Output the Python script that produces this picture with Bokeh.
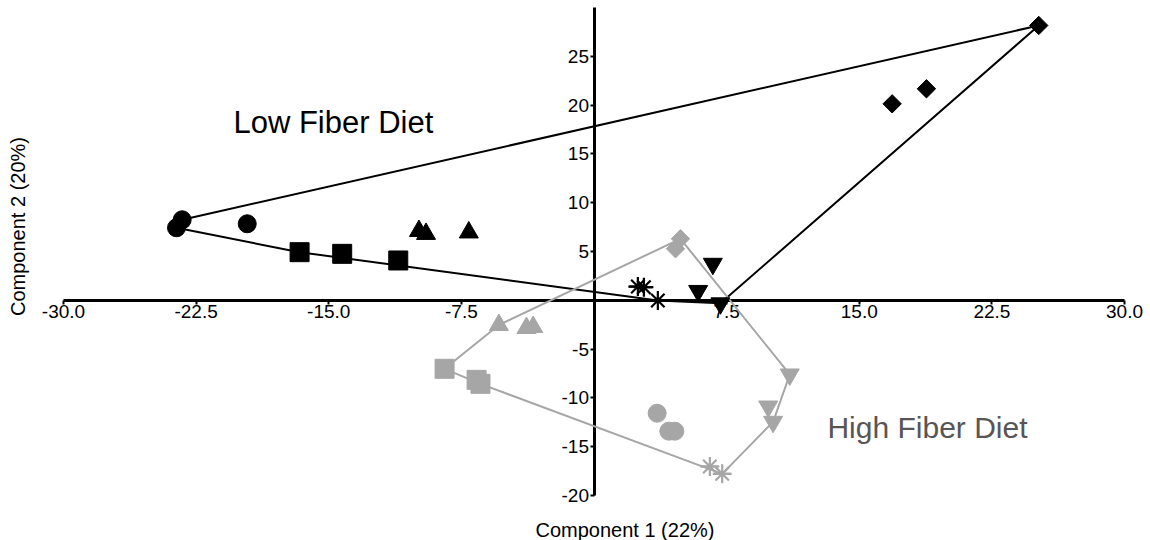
import numpy as np
from bokeh.plotting import figure
from bokeh.models import FixedTicker, Label, Range1d
from bokeh.embed import file_html
from bokeh.resources import INLINE

# ---------------- data (Component 1, Component 2) ----------------
# Low fiber diet (black)
low_circle_x = [-23.29, -23.61, -19.61]
low_circle_y = [8.25, 7.43, 7.84]
low_square_x = [-16.65, -14.24, -11.07]
low_square_y = [4.93, 4.76, 4.08]
low_triangle_x = [-9.90, -9.50, -7.08]
low_triangle_y = [7.10, 6.80, 6.95]
low_asterisk_x = [2.48, 2.82, 3.61]
low_asterisk_y = [1.41, 1.34, -0.02]
low_invtri_x = [6.72, 5.89, 7.15]
low_invtri_y = [3.74, 0.96, -0.31]
low_diamond_x = [25.15, 18.80, 16.86]
low_diamond_y = [28.16, 21.67, 20.13]

# High fiber diet (gray)
high_circle_x = [3.57, 4.23, 4.57]
high_circle_y = [-11.57, -13.41, -13.41]
high_square_x = [-8.45, -6.64, -6.42]
high_square_y = [-7.02, -8.15, -8.56]
high_triangle_x = [-5.38, -3.82, -3.44]
high_triangle_y = [-2.53, -2.84, -2.74]
high_asterisk_x = [6.55, 7.25]
high_asterisk_y = [-17.03, -17.78]
high_invtri_x = [11.07, 9.85, 10.13]
high_invtri_y = [-7.60, -10.88, -12.45]
high_diamond_x = [4.89, 4.61]
high_diamond_y = [6.30, 5.28]

x_ticks = [-30, -22.5, -15, -7.5, 7.5, 15, 22.5, 30]
x_tick_labels = ["-30.0", "-22.5", "-15.0", "-7.5", "7.5", "15.0", "22.5", "30.0"]
y_ticks = [-20, -15, -10, -5, 5, 10, 15, 20, 25]
y_tick_labels = ["-20", "-15", "-10", "-5", "5", "10", "15", "20", "25"]
x_axis_bounds = (-30, 30)
y_axis_bounds = (-20, 30)

x_title = "Component 1 (22%)"
y_title = "Component 2 (20%)"
low_title = "Low Fiber Diet"
high_title = "High Fiber Diet"

BLACK = "#000000"
GRAY = "#a6a6a6"
TEXT_GRAY = "#595555"
FONT = "Liberation Sans"


def convex_hull(xs, ys):
    pts = sorted(set(zip(xs, ys)))
    if len(pts) <= 2:
        return pts

    def cross(o, a, b):
        return (a[0] - o[0]) * (b[1] - o[1]) - (a[1] - o[1]) * (b[0] - o[0])

    lower = []
    for pt in pts:
        while len(lower) >= 2 and cross(lower[-2], lower[-1], pt) <= 0:
            lower.pop()
        lower.append(pt)
    upper = []
    for pt in reversed(pts):
        while len(upper) >= 2 and cross(upper[-2], upper[-1], pt) <= 0:
            upper.pop()
        upper.append(pt)
    return lower[:-1] + upper[:-1]


# frame covers the whole canvas; the axes are drawn through the origin
p = figure(width=1150, height=540, output_backend="svg", toolbar_location=None,
           x_range=Range1d(-33.563, 31.470), y_range=Range1d(-24.611, 30.717),
           min_border_left=0, min_border_right=0, min_border_top=0, min_border_bottom=0)
p.outline_line_color = None
p.xgrid.visible = False
p.ygrid.visible = False
p.background_fill_color = "white"
p.border_fill_color = "white"

for ax in (p.xaxis[0], p.yaxis[0]):
    ax.fixed_location = 0
    ax.axis_line_width = 3
    ax.axis_line_color = "black"
    ax.major_tick_line_width = 2
    ax.major_tick_in = 0
    ax.major_tick_out = 4
    ax.minor_tick_out = 0
    ax.minor_tick_in = 0
    ax.major_label_text_font = FONT
    ax.major_label_text_font_size = "19px"
    ax.major_label_text_color = "black"
    ax.major_label_standoff = 1
    ax.level = "underlay"

p.xaxis[0].bounds = x_axis_bounds
p.yaxis[0].bounds = y_axis_bounds
p.xaxis[0].ticker = FixedTicker(ticks=x_ticks)
p.xaxis[0].major_label_overrides = {t: l for t, l in zip(x_ticks, x_tick_labels)}
p.yaxis[0].ticker = FixedTicker(ticks=y_ticks)
p.yaxis[0].major_label_overrides = {t: l for t, l in zip(y_ticks, y_tick_labels)}

groups = {
    BLACK: [
        ("circle", low_circle_x, low_circle_y),
        ("square", low_square_x, low_square_y),
        ("triangle", low_triangle_x, low_triangle_y),
        ("asterisk", low_asterisk_x, low_asterisk_y),
        ("inverted_triangle", low_invtri_x, low_invtri_y),
        ("diamond", low_diamond_x, low_diamond_y),
    ],
    GRAY: [
        ("circle", high_circle_x, high_circle_y),
        ("square", high_square_x, high_square_y),
        ("triangle", high_triangle_x, high_triangle_y),
        ("asterisk", high_asterisk_x, high_asterisk_y),
        ("inverted_triangle", high_invtri_x, high_invtri_y),
        ("diamond", high_diamond_x, high_diamond_y),
    ],
}

# convex hull of each diet group
for color, items in groups.items():
    all_x = [v for _, xs, _ in items for v in xs]
    all_y = [v for _, _, ys in items for v in ys]
    hull = convex_hull(all_x, all_y)
    hx = [h[0] for h in hull] + [hull[0][0]]
    hy = [h[1] for h in hull] + [hull[0][1]]
    p.line(hx, hy, line_color=color, line_width=2)

sizes = {"circle": 18, "square": 19, "triangle": 19, "asterisk": 19,
         "inverted_triangle": 19, "diamond": 13}

for color, items in groups.items():
    for marker, xs, ys in items:
        if marker == "diamond":
            p.scatter(xs, ys, marker="square", angle=np.pi / 4, size=sizes[marker],
                      fill_color=color, line_color=color, line_width=1)
        elif marker == "asterisk":
            p.scatter(xs, ys, marker="asterisk", size=sizes[marker],
                      line_color=color, line_width=2.2)
            p.scatter(xs, ys, marker="dash", size=sizes[marker] - 2,
                      line_color=color, line_width=2.2)
        else:
            p.scatter(xs, ys, marker=marker, size=sizes[marker],
                      fill_color=color, line_color=color, line_width=1)

# titles
p.add_layout(Label(x=1.75, y=-23.55, text=x_title, text_font=FONT,
                   text_font_size="20px", text_align="center",
                   text_baseline="alphabetic", text_color="black"))
p.add_layout(Label(x=-32.6, y=7.56, text=y_title, text_font=FONT,
                   text_font_size="20px", text_align="center",
                   text_baseline="alphabetic", angle=np.pi / 2, text_color="black"))
p.add_layout(Label(x=-20.39, y=18.22, text=low_title, text_font=FONT,
                   text_font_size="31px", text_align="left",
                   text_baseline="alphabetic", text_color="black"))
p.add_layout(Label(x=13.2, y=-13.0, text=high_title, text_font=FONT,
                   text_font_size="30px", text_align="left",
                   text_baseline="alphabetic", text_color=TEXT_GRAY))

open("out.html", "w").write(file_html(p, INLINE))
